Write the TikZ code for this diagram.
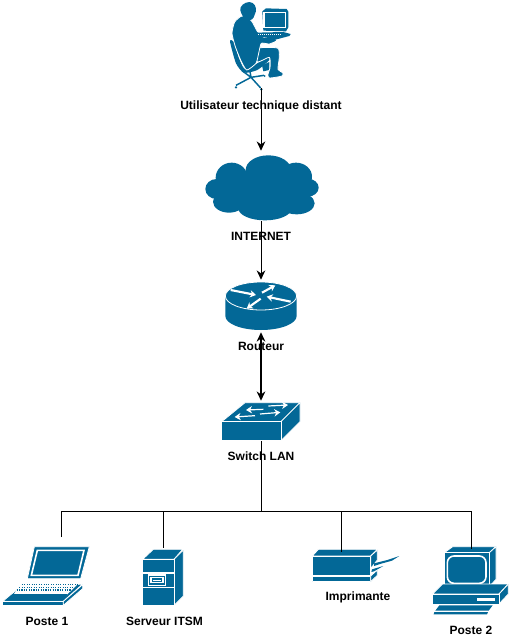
\documentclass[tikz,border=0pt]{standalone}
\usepackage{fontspec}
\setmainfont{Liberation Sans}
\usetikzlibrary{arrows.meta}
\definecolor{ciscoblue}{HTML}{036897}
\tikzset{
  iconbox/.style={inner sep=0pt, minimum width=#1},
  label/.style={font=\fontsize{9}{11}\selectfont\bfseries, inner sep=0pt},
  link/.style={line width=0.75pt},
  trunk/.style={line width=1.2pt},
  tip/.style={-{Stealth[length=7pt,width=6.5pt]}},
  blue/.style={fill=ciscoblue},
  edge/.style={draw=white, line width=0.6pt, line join=round},
  whiteline/.style={draw=white, line width=0.8pt},
  whiteframe/.style={draw=white, line width=1.2pt},
  whitearrow/.style={draw=white, line width=1.6pt, -{Stealth[length=4.5pt,width=5.5pt]}},
}
\begin{document}
\begin{tikzpicture}[x=0.75pt, y=-0.75pt]
    \useasboundingbox (0,0) rectangle (510,636);

    % --- Icon boxes ---
    \node[iconbox=50pt, minimum height=66pt] (utilisateur) at (261,44) {};
    \node[iconbox=85pt, minimum height=52.5pt] (internet) at (261,186) {};
    \node[iconbox=54pt, minimum height=39pt] (routeur) at (261,306) {};
    \node[iconbox=59pt, minimum height=30pt] (switch) at (261,421) {};
    \node[iconbox=40pt, minimum height=45pt] (poste1) at (61.5,567.5) {};
    \node[iconbox=30pt, minimum height=42pt] (serveur) at (163,576) {};
    \node[iconbox=40pt, minimum height=24pt] (imprimante) at (341.5,568) {};
    \node[iconbox=40pt, minimum height=48pt] (poste2) at (471,581) {};
    \coordinate (bus) at (261,511.5);

    % --- Person at desk ---
    \begin{scope}[shift={(170,0)}, scale=1/3]
        % chair back and seat
        \fill[blue] plot[smooth cycle, tension=0.4] coordinates {(180,124) (192,126) (206,172) (224,206) (262,190) (294,168) (298,180) (262,210) (222,218) (198,190)};
        % chair foot
        \draw[draw=ciscoblue, line width=1.1pt] (240,214) -- (243,232) (243,232) -- (198,256) (243,232) -- (272,264) (243,232) -- (282,226) (243,232) -- (216,212);
        \fill[blue] (198,262) circle (4) (274,268) circle (4) (284,228) circle (3);
        \fill[blue] (276,196) -- (298,186) -- (298,210) -- (280,214) -- cycle;
        % leg and foot
        \filldraw[blue, edge] plot[smooth cycle, tension=0.4] coordinates {(258,146) (322,144) (328,170) (324,208) (338,218) (336,228) (298,234) (294,222) (300,204) (298,172) (262,186)};
        % torso and arm
        \filldraw[blue, edge] plot[smooth cycle, tension=0.35] coordinates {(216,48) (244,62) (262,94) (282,112) (312,110) (320,122) (298,132) (274,130) (266,160) (258,190) (230,210) (212,180) (196,140) (186,100) (194,66)};
        % head
        \fill[blue] plot[smooth cycle, tension=0.7] coordinates {(212,22) (228,8) (248,9) (258,26) (254,44) (246,58) (228,60) (214,40)};
        % monitor
        \fill[blue] (277,34) -- (288,25) -- (350,27) -- (355,35) -- (355,82) -- (348,94) -- (280,92) -- cycle;
        \draw[whiteline, fill=ciscoblue] (282,38) rectangle (346,82);
        % keyboard
        \fill[blue] (256,98) -- (340,96) -- (362,102) -- (358,108) -- (320,118) -- (270,110) -- cycle;
        \draw[white, line width=0.5pt, densely dotted] (264,102) -- (336,102);
    \end{scope}

    % --- Cloud ---
    \begin{scope}[shift={(190,140)}, scale=1/3]
        \foreach \cx/\cy/\rx/\ry in {235/90/68/44, 125/113/48/45, 318/110/48/42, 80/147/34/30, 353/143/33/27, 117/185/48/33, 225/205/80/36, 320/190/54/33} {
            \fill[blue] (\cx,\cy) ellipse [x radius=\rx, y radius=\ry];
        }
        \fill[blue] (100,100) rectangle (350,200);
    \end{scope}

    % --- Router ---
    \begin{scope}[shift={(200,270)}, scale=1/3]
        \fill[blue] (76,78) -- (76,138) arc[start angle=180, end angle=360, x radius=107, y radius=-42] -- (290,78) -- cycle;
        \fill[blue, draw=white, line width=0.6pt] (183,78) ellipse (107 and 42);
        \draw[whitearrow] (92,60) -- (168,75);
        \draw[whitearrow] (186,68) -- (226,46);
        \draw[whitearrow] (272,95) -- (200,80);
        \draw[whitearrow] (182,86) -- (140,116);
    \end{scope}

    % --- Switch ---
    \begin{scope}[shift={(200,270)}, scale=1/3]
        \filldraw[blue, edge] (65,455) -- (135,398) -- (300,398) -- (243,455) -- cycle;
        \filldraw[blue, edge] (243,455) -- (300,398) -- (300,455) -- (243,512) -- cycle;
        \filldraw[blue, edge] (65,455) rectangle (243,512);
        \begin{scope}[whitearrow/.append style={line width=0.9pt}]
            \draw[whitearrow] (190,418) -- (138,420);
            \draw[whitearrow] (205,408) -- (264,405);
            \draw[whitearrow] (165,437) -- (104,441);
            \draw[whitearrow] (180,432) -- (241,427);
        \end{scope}
    \end{scope}

    % --- Laptop ---
    \begin{scope}[shift={(0,500)}, scale=1/3]
        \filldraw[blue, edge] (103,140) -- (268,140) -- (242,236) -- (82,236) -- cycle;
        \draw[whiteframe] (112,151) -- (252,151) -- (234,226) -- (94,226) -- cycle;
        \filldraw[blue, edge] (8,304) -- (52,268) -- (248,252) -- (190,304) -- cycle;
        \fill[white] (62,250) -- (240,246) -- (200,285) -- (40,285) -- cycle;
        \foreach \ypos/\xa/\xb in {254/66/232, 262/58/224, 270/50/214} {
            \draw[draw=ciscoblue, line width=0.8pt, densely dotted] (\xa,\ypos) -- (\xb,\ypos);
        }
        \fill[blue] (38,282) -- (202,282) -- (190,302) -- (16,302) -- cycle;
        \filldraw[blue, edge] (8,304) rectangle (190,316);
        \filldraw[blue, edge] (190,304) -- (248,254) -- (248,266) -- (190,316) -- cycle;
    \end{scope}

    % --- Server ---
    \begin{scope}[shift={(0,500)}, scale=1/3]
        \filldraw[blue, edge] (428,178) -- (460,148) -- (548,148) -- (522,178) -- cycle;
        \filldraw[blue, edge] (522,178) -- (550,150) -- (550,288) -- (522,316) -- cycle;
        \filldraw[blue, edge] (428,178) rectangle (522,316);
        \draw[whiteline] (428,219) -- (522,219) (428,263) -- (522,263);
        \draw[whiteline] (445,225) rectangle (497,256);
        \draw[whiteline] (453,232) rectangle (489,248);
        \draw[white, line width=0.4pt] (458,240) -- (484,240);
    \end{scope}

    % --- Printer ---
    \begin{scope}[shift={(300,500)}, scale=1/3]
        \filldraw[blue, edge] (37,168) -- (55,148) -- (232,148) -- (212,168) -- cycle;
        \filldraw[blue, edge] (212,168) -- (232,150) -- (232,180) -- (212,206) -- cycle;
        \filldraw[blue, edge] (37,168) rectangle (212,226);
        \filldraw[blue, edge] (37,228) rectangle (212,245);
        \filldraw[blue, edge] (212,228) -- (232,210) -- (232,226) -- (212,245) -- cycle;
        \fill[blue] (222,190) -- (262,180) -- (298,168) -- (276,182) -- (240,192) -- (222,198) -- cycle;
        \fill[blue] (216,208) -- (250,198) -- (222,214) -- (214,216) -- cycle;
    \end{scope}

    % --- Desktop ---
    \begin{scope}[shift={(300,500)}, scale=1/3]
        \filldraw[blue, edge] (433,158) -- (458,140) -- (588,140) -- (568,158) -- cycle;
        \filldraw[blue, edge] (568,158) -- (588,140) -- (588,238) -- (568,260) -- cycle;
        \filldraw[blue, edge] (433,158) rectangle (568,260);
        \draw[whiteframe, rounded corners=5pt] (442,168) rectangle (558,250);
        \filldraw[blue, edge] (398,282) -- (428,252) -- (625,252) -- (597,282) -- cycle;
        \filldraw[blue, edge] (597,282) -- (625,252) -- (625,282) -- (597,312) -- cycle;
        \filldraw[blue, edge] (398,282) rectangle (597,312);
        \fill[white] (532,295) rectangle (585,302);
        \fill[blue] (418,316) -- (578,316) -- (566,332) -- (406,332) -- cycle;
        \fill[blue] (403,336) -- (564,336) -- (561,343) -- (401,343) -- cycle;
    \end{scope}

    % --- Links ---
    \draw[link, tip] (utilisateur.south) -- (internet.north);
    \draw[link, tip] (internet.south) -- (routeur.north);
    \draw[trunk, {Stealth[length=7pt,width=6.5pt]}-{Stealth[length=7pt,width=6.5pt]}] (routeur.south) -- (switch.north);
    \draw[link] (switch.south) -- (bus);
    \draw[link] (poste1.north) |- (bus) -| (poste2.north);
    \draw[link] (serveur.north) |- (bus);
    \draw[link] (imprimante.north) |- (bus);

    % --- Labels ---
    \node[label] (lblutilisateur) at (261,106) {Utilisateur technique distant};
    \node[label] (lblinternet) at (261,236) {INTERNET};
    \node[label] (lblrouteur) at (261,346) {Routeur};
    \node[label] (lblswitch) at (261,456) {Switch LAN};
    \node[label] (lblposte1) at (47,621) {Poste 1};
    \node[label] (lblserveur) at (164.5,621) {Serveur ITSM};
    \node[label] (lblimprimante) at (358,597.5) {Imprimante};
    \node[label] (lblposte2) at (471,630.5) {Poste 2};
\end{tikzpicture}
\end{document}
